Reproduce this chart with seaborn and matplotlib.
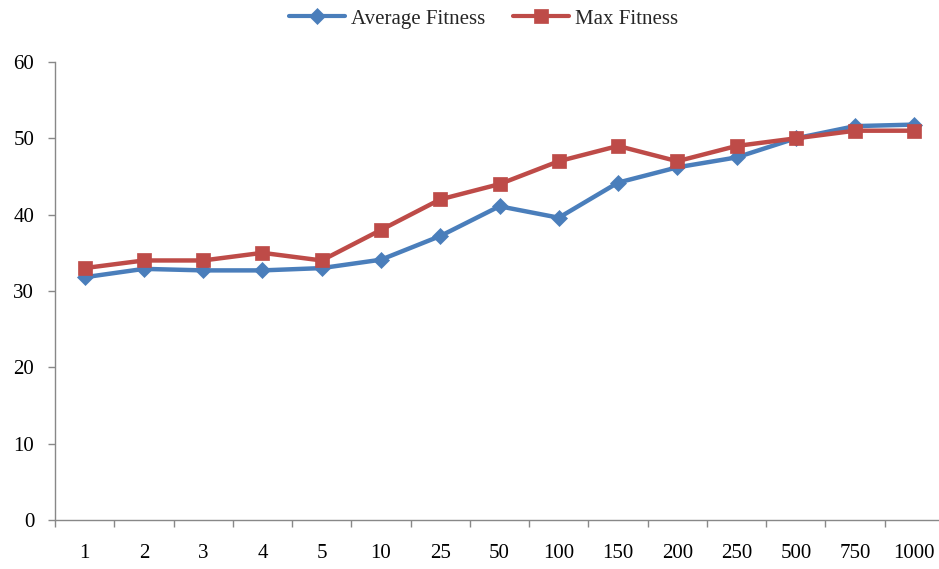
import matplotlib
matplotlib.use("Agg")
import matplotlib.pyplot as plt
import seaborn as sns
import pandas as pd
import numpy as np
from matplotlib.ticker import FixedLocator

categories = ["1", "2", "3", "4", "5", "10", "25", "50", "100", "150", "200", "250", "500", "750", "1000"]
avg_fitness = [31.8, 32.9, 32.7, 32.7, 33.0, 34.1, 37.2, 41.1, 39.6, 44.2, 46.2, 47.5, 50.0, 51.6, 51.8]
max_fitness = [33, 34, 34, 35, 34, 38, 42, 44, 47, 49, 47, 49, 50, 51, 51]
y_ticks = [0, 10, 20, 30, 40, 50, 60]

sns.set_theme(style="white")
plt.rcParams["font.family"] = ["Liberation Serif", "DejaVu Serif"]

df = pd.DataFrame({
    "Generation": pd.Categorical(categories * 2, categories=categories, ordered=True),
    "Fitness": avg_fitness + max_fitness,
    "Series": ["Average Fitness"] * len(categories) + ["Max Fitness"] * len(categories),
})

fig = plt.figure(figsize=(9.39, 5.69), dpi=100)
ax = fig.add_axes([55 / 939, 1 - 520 / 569, 889 / 939, 458 / 569])

palette = {"Average Fitness": "#4A7EBB", "Max Fitness": "#BE4B48"}
sns.lineplot(data=df, x="Generation", y="Fitness", hue="Series", style="Series",
             markers={"Average Fitness": "D", "Max Fitness": "s"}, dashes=False,
             palette=palette, linewidth=3.2, markersize=10, markeredgewidth=0.5,
             sort=False, ax=ax)
for ln in ax.lines:
    if ln.get_marker() == "D":
        ln.set_markersize(8.5)
        ln.set_markeredgecolor("#4A7EBB")
    else:
        ln.set_markeredgecolor("#BE4B48")

ax.set_xlim(-0.5, len(categories) - 0.5)
ax.set_ylim(0, 60)
ax.set_yticks(y_ticks)
ax.set_xticks(range(len(categories)))
ax.set_xticklabels(categories)
ax.xaxis.set_minor_locator(FixedLocator(np.arange(-0.5, len(categories), 1.0)))
ax.tick_params(axis="x", which="major", length=0, pad=17, labelsize=15, colors="#000000")
ax.tick_params(axis="x", which="minor", length=5, width=1, color="#888888", direction="out", bottom=True)
ax.tick_params(axis="y", which="major", length=5, width=1, color="#888888", direction="out", left=True,
               labelsize=15, pad=10, labelcolor="#000000")
ax.set_xlabel("")
ax.set_ylabel("")
for s in ["top", "right"]:
    ax.spines[s].set_visible(False)
for s in ["left", "bottom"]:
    ax.spines[s].set_color("#888888")
    ax.spines[s].set_linewidth(1)
ax.grid(False)

handles, labels = ax.get_legend_handles_labels()
ax.get_legend().remove()
leg = fig.legend(handles, labels, loc="center", bbox_to_anchor=(0.515, 1 - 19 / 569), ncol=2, frameon=False,
                 fontsize=15, handlelength=2.7, columnspacing=1.3, handletextpad=0.3)
for h in leg.legend_handles:
    h.set_linewidth(3)

fig.savefig("out.png", dpi=100)
